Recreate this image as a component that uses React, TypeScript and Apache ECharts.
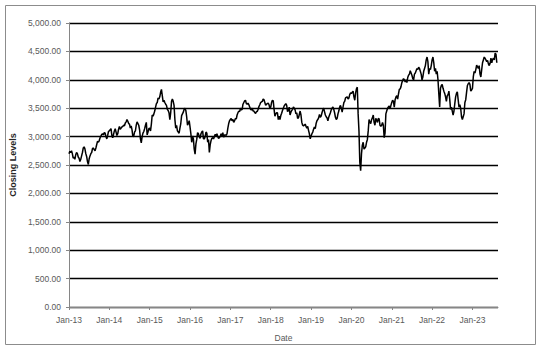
import React, { useEffect, useRef } from "react";
import * as echarts from "echarts";

const startYear = 2013;
// weekly closing levels (four readings per month)
const closes2013 = [2700, 2740, 2720, 2750, 2700, 2620, 2640, 2600, 2680, 2720, 2700, 2640, 2620, 2560, 2600, 2660, 2720, 2800, 2820, 2780, 2700, 2650, 2560, 2510, 2610, 2660, 2700, 2720, 2790, 2800, 2770, 2750, 2800, 2860, 2920, 2900, 2930, 2980, 3010, 3040, 3050, 3030, 3070, 3060, 3000, 2960, 3020, 3090];
const closes2014 = [3100, 3120, 3140, 3020, 2980, 3040, 3100, 3140, 3080, 3020, 3050, 3130, 3180, 3130, 3150, 3170, 3180, 3200, 3190, 3240, 3260, 3300, 3270, 3230, 3220, 3150, 3190, 3120, 3000, 3010, 3080, 3100, 3200, 3260, 3230, 3200, 3120, 2960, 2890, 3000, 3060, 3090, 3140, 3200, 3250, 3030, 3080, 3140];
const closes2015 = [3150, 3100, 3220, 3380, 3360, 3400, 3450, 3520, 3580, 3600, 3680, 3660, 3700, 3780, 3830, 3720, 3610, 3640, 3600, 3570, 3550, 3480, 3460, 3420, 3300, 3420, 3620, 3660, 3620, 3550, 3300, 3150, 3200, 3100, 3080, 3060, 3150, 3230, 3370, 3400, 3430, 3480, 3500, 3460, 3350, 3200, 3230, 3280];
const closes2016 = [3170, 3050, 2900, 3010, 2960, 2780, 2690, 2870, 2950, 3070, 3050, 3000, 2970, 3050, 3080, 3100, 2960, 2960, 3000, 3080, 3060, 2900, 2950, 2720, 2860, 2930, 2970, 2980, 2960, 3000, 3040, 3010, 3050, 3000, 2970, 2980, 3010, 3050, 3000, 3070, 2990, 3030, 3030, 3020, 3050, 3150, 3230, 3280];
const closes2017 = [3300, 3320, 3280, 3300, 3250, 3280, 3320, 3310, 3380, 3420, 3450, 3440, 3500, 3470, 3480, 3570, 3600, 3630, 3640, 3580, 3570, 3590, 3560, 3520, 3480, 3470, 3500, 3450, 3450, 3420, 3410, 3440, 3440, 3480, 3530, 3560, 3600, 3610, 3620, 3660, 3650, 3600, 3550, 3570, 3580, 3590, 3560, 3500];
const closes2018 = [3520, 3600, 3640, 3630, 3480, 3360, 3400, 3420, 3420, 3300, 3360, 3300, 3370, 3410, 3460, 3500, 3540, 3560, 3580, 3550, 3440, 3460, 3520, 3380, 3430, 3460, 3480, 3520, 3500, 3470, 3400, 3420, 3320, 3330, 3390, 3450, 3380, 3250, 3200, 3190, 3200, 3220, 3180, 3150, 3180, 3110, 3050, 2960];
const closes2019 = [3010, 3050, 3080, 3130, 3170, 3140, 3230, 3280, 3300, 3330, 3390, 3340, 3360, 3420, 3470, 3500, 3440, 3380, 3350, 3330, 3280, 3340, 3380, 3420, 3470, 3500, 3520, 3480, 3420, 3340, 3300, 3320, 3400, 3450, 3520, 3550, 3500, 3430, 3520, 3600, 3620, 3680, 3690, 3700, 3660, 3680, 3740, 3770];
const closes2020 = [3760, 3780, 3800, 3700, 3640, 3770, 3840, 3870, 3400, 3100, 2550, 2400, 2700, 2850, 2900, 2780, 2800, 2820, 2900, 2950, 3100, 3300, 3250, 3230, 3300, 3330, 3380, 3250, 3200, 3320, 3290, 3250, 3320, 3310, 3200, 3180, 3200, 3250, 3200, 2980, 3060, 3400, 3450, 3500, 3520, 3540, 3490, 3550];
const closes2021 = [3600, 3640, 3620, 3520, 3650, 3700, 3720, 3660, 3750, 3830, 3840, 3880, 3950, 3990, 4020, 4000, 3960, 4000, 3950, 4040, 4080, 4100, 4160, 4120, 4080, 4020, 4000, 4100, 4120, 4160, 4200, 4180, 4220, 4200, 4150, 4100, 4000, 4050, 4150, 4200, 4250, 4350, 4400, 4320, 4100, 4200, 4180, 4250];
const closes2022 = [4350, 4400, 4300, 4150, 4200, 4100, 4150, 4000, 3750, 3520, 3850, 3900, 3920, 3850, 3800, 3760, 3700, 3620, 3720, 3740, 3800, 3650, 3480, 3520, 3450, 3380, 3450, 3580, 3700, 3760, 3790, 3650, 3520, 3560, 3500, 3350, 3300, 3350, 3400, 3600, 3650, 3780, 3900, 3930, 3950, 3920, 3800, 3820];
const closes2023 = [3850, 4050, 4150, 4120, 4180, 4260, 4230, 4200, 4250, 4100, 4050, 4180, 4300, 4350, 4400, 4380, 4350, 4320, 4340, 4280, 4250, 4290, 4380, 4300, 4360, 4380, 4350, 4470, 4450, 4300];

const yearlyCloses = [closes2013, closes2014, closes2015, closes2016, closes2017, closes2018, closes2019, closes2020, closes2021, closes2022, closes2023];
const yearTicks = [0, 12, 24, 36, 48, 60, 72, 84, 96, 108, 120];

export default function App() {
  const ref = useRef<HTMLDivElement>(null);
  useEffect(() => {
    if (!ref.current) return;
    const chart = echarts.init(ref.current, null, { renderer: "svg" });
    const data: [number, number][] = [];
    yearlyCloses.forEach((arr, yi) => {
      arr.forEach((v, i) => data.push([yi * 12 + i / 4, v]));
    });
    const labelColor = "#595959";
    const font = "'Liberation Sans', Arial, sans-serif";
    chart.setOption({
      animation: false,
      backgroundColor: "#ffffff",
      grid: { left: 66, right: 44, top: 23, bottom: 44 },
      graphic: [
        {
          type: "rect",
          shape: { x: 5.5, y: 5.5, width: 530, height: 339 },
          style: { fill: "none", stroke: "#8c8c8c", lineWidth: 1 },
          silent: true,
        },
      ],
      xAxis: {
        type: "value",
        min: 0,
        max: 127.6,
        name: "Date",
        nameLocation: "middle",
        nameGap: 26,
        nameTextStyle: { fontSize: 8.5, color: labelColor, fontFamily: font },
        splitLine: { show: false },
        axisLine: { lineStyle: { color: "#868686", width: 1 } },
        axisTick: { customValues: yearTicks, length: 3, lineStyle: { color: "#868686" } },
        axisLabel: {
          customValues: yearTicks,
          fontSize: 8.5,
          color: labelColor,
          fontFamily: font,
          margin: 8,
          formatter: (v: number) => "Jan-" + String(startYear - 2000 + Math.round(v / 12)),
        },
      },
      yAxis: {
        type: "value",
        min: 0,
        max: 5000,
        interval: 500,
        name: "Closing Levels",
        nameLocation: "middle",
        nameGap: 50,
        nameTextStyle: { fontSize: 9, fontWeight: "bold", color: "#262626", fontFamily: font },
        axisLine: { show: true, lineStyle: { color: "#868686", width: 1 } },
        axisTick: { show: true, length: 3, lineStyle: { color: "#868686" } },
        splitLine: { lineStyle: { color: "#000000", width: 1.3 } },
        axisLabel: {
          fontSize: 8.5,
          color: labelColor,
          fontFamily: font,
          margin: 8,
          formatter: (v: number) =>
            v.toLocaleString("en-US", { minimumFractionDigits: 2, maximumFractionDigits: 2 }),
        },
      },
      series: [
        {
          type: "line",
          data,
          showSymbol: false,
          symbol: "none",
          lineStyle: { color: "#000000", width: 1.5 },
        },
      ],
    });
    return () => chart.dispose();
  }, []);
  return (
    <div
      ref={ref}
      style={{ position: "fixed", left: 0, top: 0, width: 542, height: 351 }}
    />
  );
}
